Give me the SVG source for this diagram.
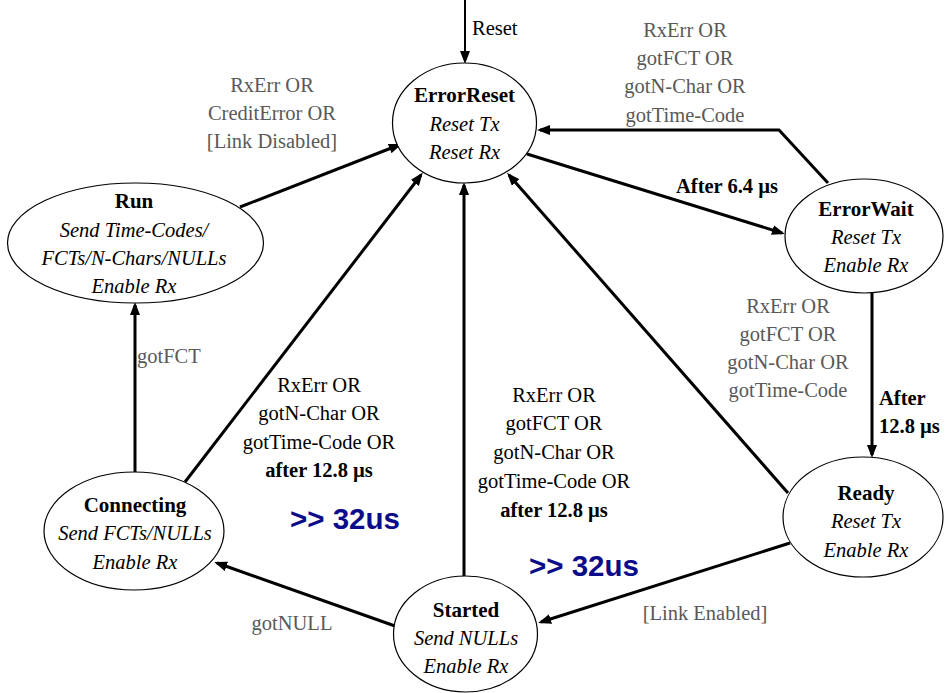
<svg xmlns="http://www.w3.org/2000/svg" width="945" height="693" viewBox="0 0 945 693">
<style>
.node ellipse{fill:#fff;stroke:#000;stroke-width:1.2}
text{font-family:"Liberation Serif","Times New Roman",serif;font-size:20.5px;text-anchor:middle}
.t{font-weight:bold;font-size:21px}
.i{font-style:italic}
.g{fill:#595959}
.k{fill:#000}
.b{font-weight:bold}
.blue{font-family:"Liberation Sans",Arial,sans-serif;font-weight:bold;font-size:29.5px;fill:#0c0c8a;text-anchor:start}
.c{fill:none;stroke:#000;stroke-width:3;marker-end:url(#ah)}
</style>
<defs>
<marker id="ah" markerUnits="userSpaceOnUse" markerWidth="14" markerHeight="12" refX="10" refY="5" orient="auto">
<path d="M0,0 L13,5 L0,10 z" fill="#000"/>
</marker>
</defs>
<g id="connectors">
<line x1="465" y1="0" x2="465" y2="61" class="c" style="stroke-width:2"/>
<line x1="240" y1="207" x2="399" y2="145" class="c"/>
<line x1="527" y1="154" x2="782" y2="233" class="c"/>
<polyline points="828,183 779,130 540,130" class="c"/>
<line x1="872" y1="293" x2="872" y2="455" class="c"/>
<line x1="788" y1="493" x2="509" y2="175" class="c"/>
<line x1="790" y1="543" x2="541" y2="622" class="c"/>
<line x1="464" y1="577" x2="464" y2="185" class="c"/>
<line x1="395" y1="626" x2="217" y2="563" class="c"/>
<line x1="135" y1="472" x2="135" y2="305" class="c"/>
<line x1="185" y1="482" x2="421" y2="175" class="c"/>
</g>
<g id="ErrorReset" class="node">
<ellipse cx="464.5" cy="123" rx="72" ry="60"/>
<text x="464.5" y="102" class="t">ErrorReset</text>
<text x="464.5" y="131" class="i">Reset Tx</text>
<text x="464.5" y="159" class="i">Reset Rx</text>
</g>
<g id="Run" class="node">
<ellipse cx="135.5" cy="243" rx="128" ry="60"/>
<text x="134" y="208" class="t">Run</text>
<text x="134" y="237" class="i">Send Time-Codes/</text>
<text x="134" y="265" class="i">FCTs/N-Chars/NULLs</text>
<text x="134" y="293" class="i">Enable Rx</text>
</g>
<g id="ErrorWait" class="node">
<ellipse cx="864" cy="236" rx="79" ry="57"/>
<text x="866" y="216" class="t">ErrorWait</text>
<text x="866" y="244" class="i">Reset Tx</text>
<text x="866" y="272" class="i">Enable Rx</text>
</g>
<g id="Ready" class="node">
<ellipse cx="863" cy="517" rx="80" ry="60"/>
<text x="866" y="500" class="t">Ready</text>
<text x="866" y="528" class="i">Reset Tx</text>
<text x="866" y="557" class="i">Enable Rx</text>
</g>
<g id="Connecting" class="node">
<ellipse cx="134" cy="531" rx="90" ry="59"/>
<text x="135" y="512" class="t">Connecting</text>
<text x="135" y="540" class="i">Send FCTs/NULLs</text>
<text x="135" y="569" class="i">Enable Rx</text>
</g>
<g id="Started" class="node">
<ellipse cx="465.5" cy="634" rx="72" ry="58"/>
<text x="466" y="617" class="t">Started</text>
<text x="466" y="645" class="i">Send NULLs</text>
<text x="466" y="673" class="i">Enable Rx</text>
</g>
<g id="labels">
<text x="472" y="35" class="k" style="text-anchor:start">Reset</text>
<text x="272" y="92" class="g">RxErr OR</text>
<text x="272" y="120" class="g">CreditError OR</text>
<text x="272" y="148" class="g">[Link Disabled]</text>
<text x="685" y="37" class="g">RxErr OR</text>
<text x="685" y="65" class="g">gotFCT OR</text>
<text x="685" y="93" class="g">gotN-Char OR</text>
<text x="685" y="122" class="g">gotTime-Code</text>
<text x="727" y="193" class="k b">After 6.4 µs</text>
<text x="788" y="313" class="g">RxErr OR</text>
<text x="788" y="341" class="g">gotFCT OR</text>
<text x="788" y="369" class="g">gotN-Char OR</text>
<text x="788" y="397" class="g">gotTime-Code</text>
<text x="879" y="405" class="k b" style="text-anchor:start">After</text>
<text x="879" y="433" class="k b" style="text-anchor:start">12.8 µs</text>
<text x="137" y="363" class="g" style="text-anchor:start">gotFCT</text>
<text x="319" y="392" class="k">RxErr OR</text>
<text x="319" y="420" class="k">gotN-Char OR</text>
<text x="319" y="449" class="k">gotTime-Code OR</text>
<text x="319" y="477" class="k b">after 12.8 µs</text>
<text x="554" y="402" class="k">RxErr OR</text>
<text x="554" y="430" class="k">gotFCT OR</text>
<text x="554" y="459" class="k">gotN-Char OR</text>
<text x="554" y="488" class="k">gotTime-Code OR</text>
<text x="554" y="517" class="k b">after 12.8 µs</text>
<text x="290" y="529" class="blue">&gt;&gt; 32us</text>
<text x="529" y="576" class="blue">&gt;&gt; 32us</text>
<text x="705" y="620" class="g">[Link Enabled]</text>
<text x="292" y="630" class="g">gotNULL</text>
</g>
</svg>
